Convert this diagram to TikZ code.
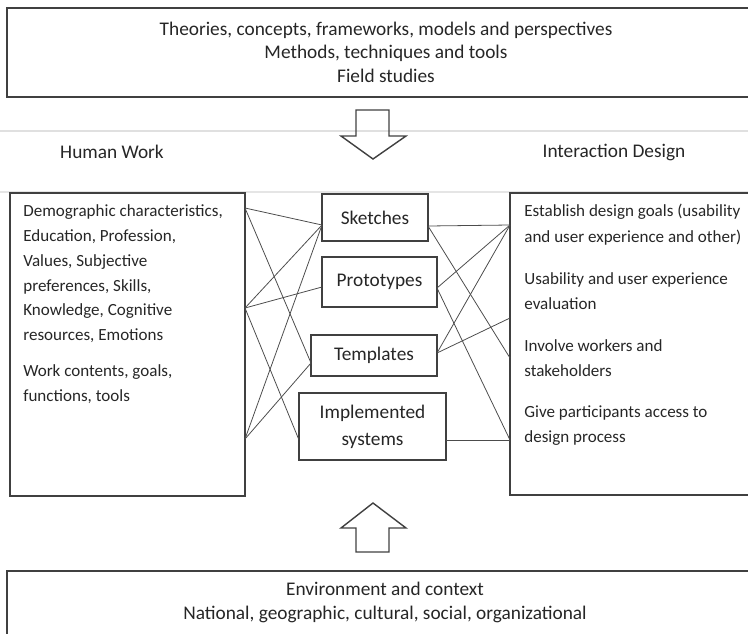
\documentclass[tikz,border=0pt]{standalone}
\usepackage{fontspec}
\setmainfont{Carlito}
\usepackage{tikz}
\usepackage{xcolor}

\begin{document}
\begin{tikzpicture}[x=0.02cm,y=-0.02cm,
    font=\fontsize{11}{13.3}\selectfont, text=black!85,
    box/.style={draw=black!75, line width=0.8pt},
    midbox/.style={draw=black!75, line width=0.8pt, inner sep=0pt},
    link/.style={draw=black!70, line width=0.45pt}]
\useasboundingbox (0,0) rectangle (748,633);
\clip (0,0) rectangle (748,633);
% faint lines of the page
\draw[black!12, line width=1pt] (0,131)--(748,131);
\draw[black!10, line width=0.8pt] (0,192)--(748,192);
% top box
\draw[box] (7,8) rectangle (765,97);
\node[align=center] (theo) at (386,52)
  {Theories, concepts, frameworks, models and perspectives\\
   Methods, techniques and tools\\
   Field studies};
\draw[box] (356,110)--(389,110)--(389,136)--(406,136)--(373,159)--(341,136)--(356,136)--cycle;
\node (hwlab) at (112,152) {Human Work};
\node (idlab) at (614,152) {Interaction Design};
% left and right boxes
\draw[box] (10,193) rectangle (245,496);
\draw[box] (510,193) rectangle (760,495);
\node[anchor=north west, inner sep=0pt, align=left, font=\fontsize{9.7}{14.2}\selectfont] (hwtext) at (23,204)
  {Demographic characteristics,\\ Education, Profession,\\ Values, Subjective\\
   preferences, Skills,\\ Knowledge, Cognitive\\ resources, Emotions\\[6pt]
   Work contents, goals,\\ functions, tools};
\node[anchor=north west, inner sep=0pt, align=left, font=\fontsize{9.7}{14.5}\selectfont] (idtext) at (524,204)
  {Establish design goals (usability\\ and user experience and other)\\[9.5pt]
   Usability and user experience\\ evaluation\\[9pt]
   Involve workers and\\ stakeholders\\[8.5pt]
   Give participants access to\\ design process};
% middle boxes
\node[midbox, minimum width=2.12cm, minimum height=0.94cm] (sk) at (375,217.5) {Sketches};
\node[midbox, minimum width=2.3cm, minimum height=1cm] (pr) at (379.5,282) {Prototypes};
\node[midbox, minimum width=2.52cm, minimum height=0.82cm] (te) at (374,355.5) {Templates};
\node[midbox, minimum width=2.94cm, minimum height=1.34cm, align=center,
  font=\fontsize{11}{15.3}\selectfont] (im) at (372.5,426.5) {Implemented\\ systems};
% end points of the links
\coordinate (hw1) at (245,208);
\coordinate (hw2) at (245,308);
\coordinate (hw3) at (245,439);
\coordinate (skL) at (322,225);
\coordinate (prL) at (322,287);
\coordinate (teL) at (311,363);
\coordinate (imL) at (299,440);
\coordinate (skR) at (428,226);
\coordinate (prR) at (437,288);
\coordinate (teR) at (437,353);
\coordinate (imR) at (446,440);
\coordinate (id1) at (510,225);
\coordinate (id2) at (510,318);
\coordinate (id3) at (510,358);
\coordinate (id4) at (510,440);
\foreach \a/\b in {hw1/skL,hw1/teL,hw2/skL,hw2/prL,hw2/imL,hw3/skL,hw3/teL,
  skR/id1,skR/id3,prR/id1,prR/id4,teR/id1,teR/id2,imR/id4}
  \draw[link] (\a)--(\b);
% bottom
\draw[box] (356,552)--(389,552)--(389,528)--(406,528)--(373,503)--(341,528)--(356,528)--cycle;
\draw[box] (7,571) rectangle (765,660);
\node[align=center, font=\fontsize{11}{13.6}\selectfont] (env) at (385,602)
  {Environment and context\\ National, geographic, cultural, social, organizational};
\end{tikzpicture}
\end{document}
